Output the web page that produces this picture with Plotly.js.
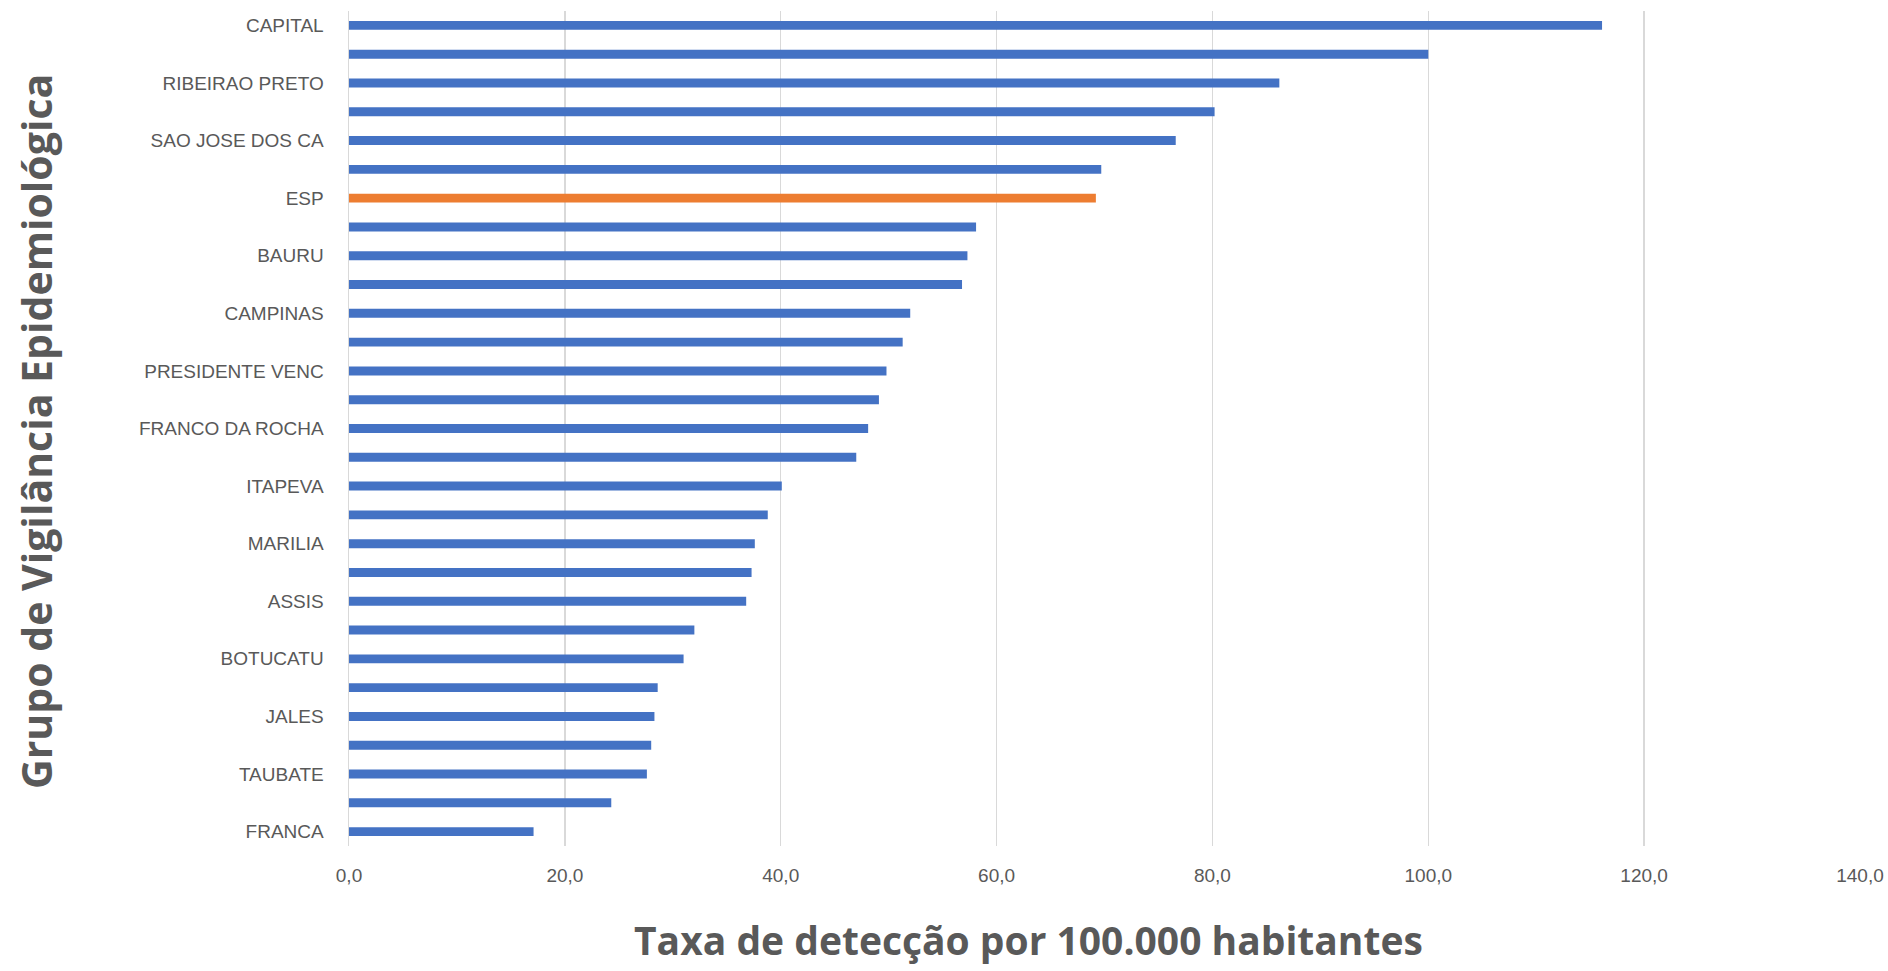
<!DOCTYPE html>
<html>
<head>
<meta charset="utf-8">
<script src="https://cdn.plot.ly/plotly-3.0.1.min.js"></script>
<style>html,body{margin:0;padding:0;background:#fff}#chart{width:1888px;height:971px}</style>
</head>
<body>
<div id="chart"></div>
<script>
// Categories (top to bottom). Only every other label is shown in the reference.
const categories = [
  "CAPITAL", "REGISTRO", "RIBEIRAO PRETO", "SANTOS", "SAO JOSE DOS CA",
  "CARAGUATATUBA", "ESP", "BARRETOS", "BAURU", "SAO JOAO DA BOA",
  "CAMPINAS", "ARARAQUARA", "PRESIDENTE VENC", "SAO JOSE DO RIO", "FRANCO DA ROCHA",
  "PRESIDENTE PRUD", "ITAPEVA", "SOROCABA", "MARILIA", "ARACATUBA",
  "ASSIS", "PIRACICABA", "BOTUCATU", "MOGI DAS CRUZES", "JALES",
  "OSASCO", "TAUBATE", "SANTO ANDRE", "FRANCA"
];
const values = [
  116.1, 100.0, 86.2, 80.2, 76.6,
  69.7, 69.2, 58.1, 57.3, 56.8,
  52.0, 51.3, 49.8, 49.1, 48.1,
  47.0, 40.1, 38.8, 37.6, 37.3,
  36.8, 32.0, 31.0, 28.6, 28.3,
  28.0, 27.6, 24.3, 17.1
];
const shownLabels = categories.filter((c, i) => i % 2 === 0);
const highlight = "ESP";
const xTicks = [0, 20, 40, 60, 80, 100, 120, 140];
const xTitle = "Taxa de detecção por 100.000 habitantes";
const yTitle = "Grupo de Vigilância Epidemiológica";

const colors = categories.map(c => c === highlight ? "#ED7D31" : "#4472C4");

const font = "Liberation Sans Narrow, Arial Narrow, Liberation Sans, sans-serif";
const boldFont = "Open Sans, Liberation Sans, sans-serif";

Plotly.newPlot("chart", [{
  type: "bar",
  orientation: "h",
  y: categories,
  x: values,
  marker: {color: colors},
  hoverinfo: "x+y"
}], {
  width: 1888,
  height: 971,
  margin: {l: 349, r: 28, t: 11, b: 125},
  paper_bgcolor: "#ffffff",
  plot_bgcolor: "#ffffff",
  separators: ",.",
  bargap: 0.69,
  showlegend: false,
  xaxis: {
    range: [0, 140],
    tickvals: xTicks,
    tickformat: ".1f",
    showgrid: true,
    gridcolor: "#D9D9D9",
    gridwidth: 1.5,
    zeroline: false,
    showline: false,
    ticks: "outside",
    ticklen: 12,
    tickcolor: "rgba(0,0,0,0)",
    tickfont: {family: font, size: 19, color: "#595959"},
    fixedrange: true
  },
  yaxis: {
    type: "category",
    autorange: "reversed",
    tickvals: shownLabels,
    ticktext: shownLabels,
    showgrid: false,
    showline: true,
    linecolor: "#D9D9D9",
    linewidth: 1.5,
    ticks: "outside",
    ticklen: 20,
    tickcolor: "rgba(0,0,0,0)",
    tickfont: {family: font, size: 19, color: "#595959"},
    fixedrange: true
  },
  annotations: [
    {text: xTitle, xref: "paper", yref: "paper",
     x: (1028 - 349) / (1888 - 349 - 28), y: -(939 - 846) / (846 - 11),
     xanchor: "center", yanchor: "middle", showarrow: false,
     font: {family: boldFont, size: 39, color: "#595959", weight: "bold"}},
    {text: yTitle, xref: "paper", yref: "paper", textangle: -90,
     x: -(349 - 36) / (1888 - 349 - 28), y: 1 - (432 - 11) / (846 - 11),
     xanchor: "center", yanchor: "middle", showarrow: false,
     font: {family: boldFont, size: 41, color: "#595959", weight: "bold"}}
  ]
}, {displayModeBar: false, staticPlot: true});
</script>
</body>
</html>
